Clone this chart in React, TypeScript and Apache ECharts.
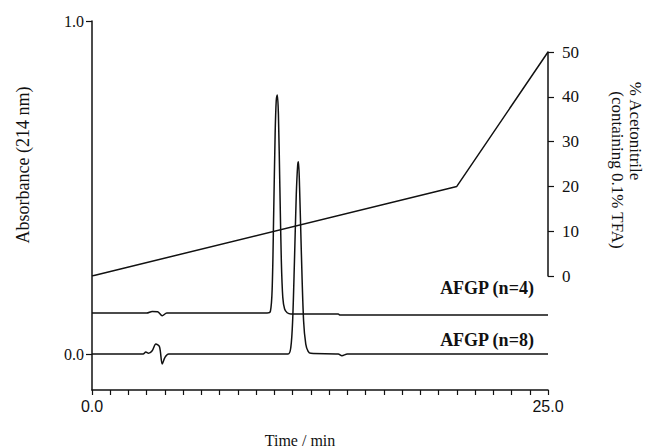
import React, { useEffect, useRef } from "react";
import * as echarts from "echarts";

// Time (min) and absorbance for AFGP (n=4) trace (offset baseline)
const timeN4 = [0, 3.0, 3.3, 3.6, 3.85, 4.1, 9.6, 9.78, 9.88, 9.96, 10.04, 10.1, 10.16, 10.22, 10.3, 10.38, 10.46, 10.56, 10.7, 10.9, 13.5, 13.6, 25];
const absN4 = [0.123, 0.123, 0.128, 0.127, 0.115, 0.123, 0.123, 0.128, 0.2, 0.42, 0.66, 0.76, 0.778, 0.72, 0.5, 0.28, 0.17, 0.135, 0.124, 0.12, 0.12, 0.117, 0.117];

// Time (min) and absorbance for AFGP (n=8) trace
const timeN8 = [0, 2.8, 2.95, 3.1, 3.3, 3.5, 3.7, 3.85, 4.0, 4.2, 10.75, 10.9, 11.0, 11.1, 11.2, 11.28, 11.32, 11.38, 11.48, 11.6, 11.72, 11.85, 12.0, 13.5, 13.7, 14.0, 25];
const absN8 = [0, 0, 0.006, 0.002, 0.01, 0.03, 0.022, -0.03, -0.01, 0, 0, 0.02, 0.1, 0.28, 0.48, 0.57, 0.577, 0.5, 0.3, 0.1, 0.03, 0.008, 0.002, 0, -0.005, 0, 0];

// Acetonitrile gradient (%)
const gradTime = [0, 20, 25];
const gradPct = [0, 20, 50];

const peakLabels = ["10.14", "11.22"];
const traceLabels = ["AFGP (n=4)", "AFGP (n=8)"];
const xTickLabels: Record<number, string> = { 0: "0.0", 25: "25.0" };

const SERIF = "'Liberation Serif', 'DejaVu Serif', serif";
const SANS = "'Liberation Sans', Arial, sans-serif";

export default function App() {
  const ref = useRef<HTMLDivElement>(null);
  useEffect(() => {
    if (!ref.current) return;
    const chart = echarts.init(ref.current, undefined, { renderer: "svg" });
    const pk4 = timeN4.indexOf(10.16);
    const pk8 = timeN8.indexOf(11.32);
    const d4 = timeN4.map((t, i) => {
      const v: any = { value: [t, absN4[i]] };
      if (i === pk4)
        v.label = { show: true, formatter: peakLabels[0], position: "top", distance: 3, offset: [2, 0], fontFamily: SERIF, fontSize: 15, color: "#111" };
      return v;
    });
    const d8 = timeN8.map((t, i) => {
      const v: any = { value: [t, absN8[i]] };
      if (i === pk8)
        v.label = { show: true, formatter: peakLabels[1], position: "top", distance: 2, offset: [5, 0], fontFamily: SERIF, fontSize: 15, color: "#111" };
      return v;
    });
    const lineStyle = { color: "#111", width: 1.5 };
    chart.setOption({
      animation: false,
      backgroundColor: "#fff",
      grid: [
        { left: 92, right: 97, top: 21, bottom: 58 },
        { left: 92, right: 97, top: 52, bottom: 172 },
      ],
      xAxis: [
        {
          gridIndex: 0,
          type: "value",
          min: 0,
          max: 25,
          interval: 1,
          splitLine: { show: false },
          axisLine: { onZero: false, lineStyle: { color: "#111", width: 1.5 } },
          axisTick: { inside: false, length: 5, lineStyle: { color: "#111", width: 1.2 } },
          axisLabel: {
            formatter: (v: number) => xTickLabels[v] ?? "",
            fontFamily: SANS,
            fontSize: 16,
            color: "#111",
            margin: 8,
          },
        },
        { gridIndex: 1, type: "value", min: 0, max: 25, show: false, axisLine: { onZero: false } },
      ],
      yAxis: [
        {
          gridIndex: 0,
          type: "value",
          min: -0.108,
          max: 1.0,
          splitLine: { show: false },
          axisLine: { show: true, onZero: false, lineStyle: { color: "#111", width: 1.5 } },
          axisTick: { show: true, length: 6, customValues: [0, 1], lineStyle: { color: "#111", width: 1.2 } },
          axisLabel: {
            customValues: [0, 1],
            formatter: (v: number) => v.toFixed(1),
            fontFamily: SERIF,
            fontSize: 16,
            color: "#111",
            margin: 8,
          },
        },
        {
          gridIndex: 1,
          type: "value",
          position: "right",
          min: 0,
          max: 50,
          interval: 10,
          splitLine: { show: false },
          axisLine: { show: true, onZero: false, lineStyle: { color: "#111", width: 1.5 } },
          axisTick: { show: true, length: 6, lineStyle: { color: "#111", width: 1.2 } },
          axisLabel: { fontFamily: SERIF, fontSize: 17, color: "#111", margin: 14 },
        },
      ],
      series: [
        { type: "line", xAxisIndex: 0, yAxisIndex: 0, data: d4, showSymbol: false, symbol: "none", smooth: 0.3, lineStyle },
        { type: "line", xAxisIndex: 0, yAxisIndex: 0, data: d8, showSymbol: false, symbol: "none", smooth: 0.3, lineStyle },
        {
          type: "line",
          xAxisIndex: 1,
          yAxisIndex: 1,
          data: gradTime.map((t, i) => [t, gradPct[i]]),
          showSymbol: false,
          symbol: "none",
          lineStyle,
        },
      ],
      graphic: [
        { type: "text", x: 487, y: 288, style: { text: traceLabels[0], font: `bold 18px ${SERIF}`, fill: "#111", align: "center", verticalAlign: "middle" } },
        { type: "text", x: 487, y: 340, style: { text: traceLabels[1], font: `bold 18px ${SERIF}`, fill: "#111", align: "center", verticalAlign: "middle" } },
        { type: "text", x: 300, y: 440, style: { text: "Time / min", font: `16px ${SERIF}`, fill: "#111", align: "center", verticalAlign: "middle" } },
        { type: "text", x: 23, y: 165, rotation: Math.PI / 2, style: { text: "Absorbance (214 nm)", font: `18px ${SERIF}`, fill: "#111", align: "center", verticalAlign: "middle" } },
        { type: "text", x: 635, y: 131, rotation: -Math.PI / 2, style: { text: "% Acetonitrile", font: `17px ${SERIF}`, fill: "#111", align: "center", verticalAlign: "middle" } },
        { type: "text", x: 617, y: 170, rotation: -Math.PI / 2, style: { text: "(containing 0.1% TFA)", font: `17px ${SERIF}`, fill: "#111", align: "center", verticalAlign: "middle" } },
      ],
    });
    return () => chart.dispose();
  }, []);
  return <div ref={ref} style={{ width: 645, height: 448, position: "absolute", left: 0, top: 0 }} />;
}
